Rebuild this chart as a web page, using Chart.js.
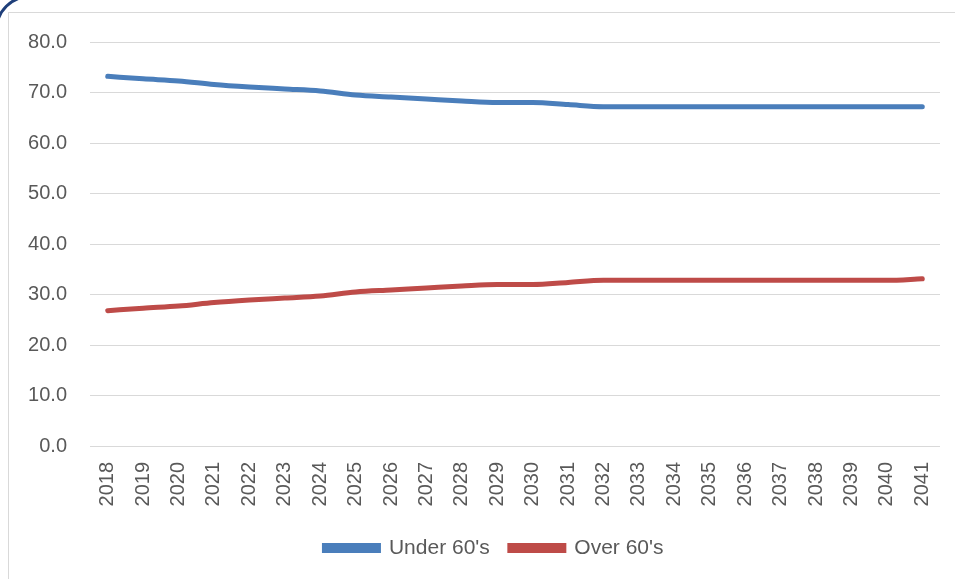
<!DOCTYPE html>
<html>
<head>
<meta charset="utf-8">
<script src="https://cdn.jsdelivr.net/npm/chart.js@4"></script>
<style>
  html, body { margin: 0; padding: 0; background: #fff; overflow: hidden; }
  #wrap { position: relative; width: 955px; height: 579px; overflow: hidden; }
  .frame { position: absolute; left: 8px; top: 12px; width: 1000px; height: 700px; border: 1px solid #d9d9d9; }
  .corner { position: absolute; left: -5px; top: -5px; width: 2000px; height: 2000px; border: 3px solid #1f3f7a; border-radius: 35px; }
  canvas { position: absolute; left: 0; top: 0; }
</style>
</head>
<body>
<div id="wrap">
  <div class="frame"></div>
  <div class="corner"></div>
  <canvas id="lineChart" width="955" height="579"></canvas>
</div>
<script>
const ctxLine = document.getElementById('lineChart');
let years = ['2018', '2019', '2020', '2021', '2022', '2023', '2024', '2025', '2026', '2027', '2028', '2029',
             '2030', '2031', '2032', '2033', '2034', '2035', '2036', '2037', '2038', '2039', '2040', '2041'];
let under60Data = [73.2, 72.7, 72.3, 71.6, 71.1, 70.7, 70.3, 69.5, 69.1, 68.7, 68.3, 68.0,
                   68.0, 67.6, 67.2, 67.2, 67.2, 67.2, 67.2, 67.2, 67.2, 67.2, 67.2, 67.2];
let over60Data = [26.8, 27.3, 27.7, 28.4, 28.9, 29.3, 29.7, 30.5, 30.9, 31.3, 31.7, 32.0,
                  32.0, 32.4, 32.8, 32.8, 32.8, 32.8, 32.8, 32.8, 32.8, 32.8, 32.8, 33.1];
let seriesLabels = ["Under 60's", "Over 60's"];
let yTicks = [0, 10, 20, 30, 40, 50, 60, 70, 80];

const textColor = '#595959';

// the legend in the original is centred under the plot, not the whole canvas
const shiftLegend = {
  id: 'shiftLegend',
  afterLayout(chart) {
    chart.legend.left += 48;
  }
};

const lineChart = new Chart(ctxLine, {
  type: 'line',
  data: {
    labels: years,
    datasets: [{
      label: seriesLabels[0],
      data: under60Data,
      borderColor: '#4a7ebb',
      backgroundColor: '#4a7ebb',
      borderWidth: 5,
      borderCapStyle: 'round',
      pointRadius: 0,
      cubicInterpolationMode: 'monotone'
    }, {
      label: seriesLabels[1],
      data: over60Data,
      borderColor: '#be4b48',
      backgroundColor: '#be4b48',
      borderWidth: 5,
      borderCapStyle: 'round',
      pointRadius: 0,
      cubicInterpolationMode: 'monotone'
    }]
  },
  options: {
    responsive: false,
    animation: false,
    layout: {
      padding: { left: 0, right: 15, top: 42, bottom: 10.5 }
    },
    scales: {
      x: {
        offset: true,
        grid: { display: false, drawTicks: false },
        border: { display: false },
        afterFit: (scale) => {
          scale.height = 71.5;
          scale.paddingLeft = 0;
          scale.paddingRight = 0;
        },
        ticks: {
          color: textColor,
          font: { family: 'Liberation Sans', size: 20 },
          minRotation: 90,
          maxRotation: 90,
          padding: 16,
          autoSkip: false
        }
      },
      y: {
        min: yTicks[0],
        max: yTicks[yTicks.length - 1],
        grid: { color: '#d9d9d9', lineWidth: 1, drawTicks: false },
        border: { display: false },
        afterFit: (scale) => { scale.width = 90; },
        ticks: {
          stepSize: 10,
          color: textColor,
          padding: 23,
          font: { family: 'Liberation Sans', size: 20 },
          callback: (v) => v.toFixed(1)
        }
      }
    },
    plugins: {
      legend: {
        position: 'bottom',
        labels: {
          boxWidth: 54,
          boxHeight: 5,
          padding: 20,
          color: textColor,
          font: { family: 'Liberation Sans', size: 21 }
        }
      },
      tooltip: { enabled: false }
    }
  },
  plugins: [shiftLegend]
})
</script>
</body>
</html>
